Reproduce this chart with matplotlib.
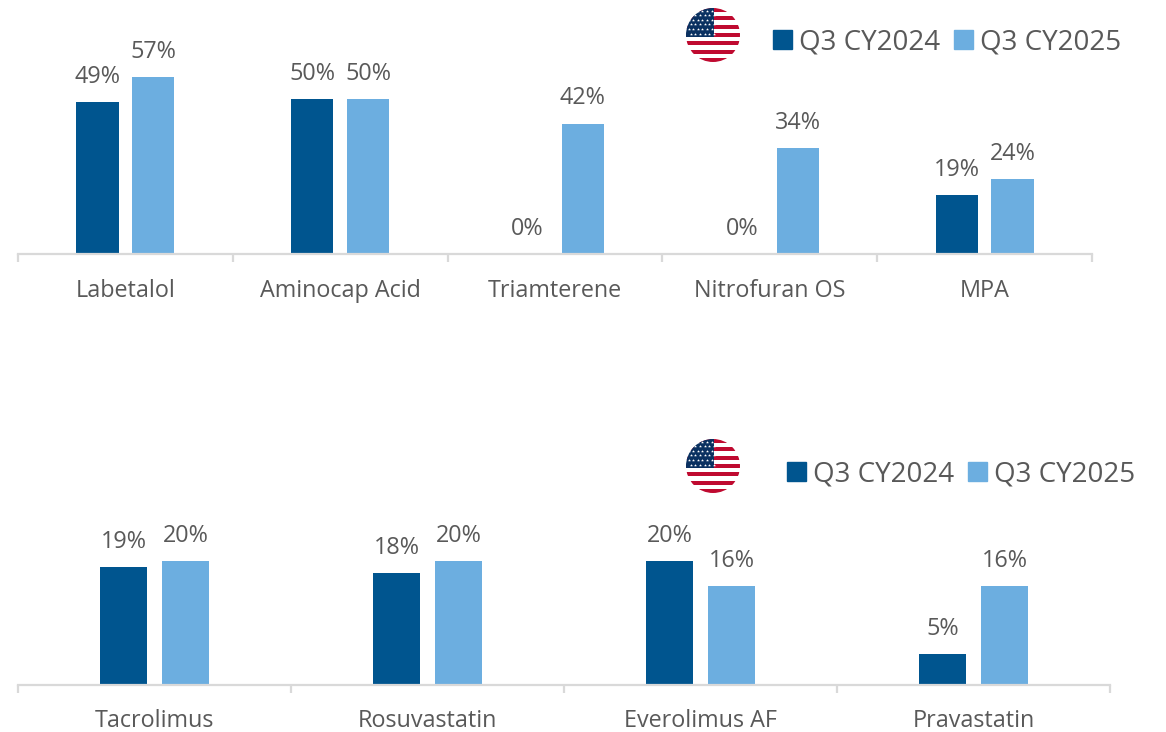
#!/usr/bin/env python

import numpy as np
import matplotlib.pyplot as plt
from matplotlib.patches import Circle, Patch, Rectangle

plt.rcParams['font.family'] = ['Open Sans', 'DejaVu Sans']

W, H = 1166, 732
DARK = "#00558f"
LIGHT = "#6caee0"
GREY = "#595959"
LINE = "#d9d9d9"

series_names = ["Q3 CY2024", "Q3 CY2025"]

top_drugs = ["Labetalol", "Aminocap Acid", "Triamterene", "Nitrofuran OS", "MPA"]
top_2024 = [49, 50, 0, 0, 19]
top_2025 = [57, 50, 42, 34, 24]

bottom_drugs = ["Tacrolimus", "Rosuvastatin", "Everolimus AF", "Pravastatin"]
bottom_2024 = [19, 18, 20, 5]
bottom_2025 = [20, 20, 16, 16]


def px_axes(fig, left, top, right, bottom):
    """ axes placed with pixel coordinates, y measured from the top """
    return fig.add_axes([left / W, 1 - bottom / H, (right - left) / W, (bottom - top) / H])


def bar_panel(ax, drugs, vals_a, vals_b, offset, width, ymax, label_pad):
    """ two bars per drug, boundary ticks and percentage labels """
    x = np.arange(len(drugs))
    bars_a = ax.bar(x - offset, vals_a, width, color=DARK)
    bars_b = ax.bar(x + offset, vals_b, width, color=LIGHT)
    for bars in (bars_a, bars_b):
        ax.bar_label(bars, fmt="%d%%", padding=9.5, fontsize=16.8, color=GREY)

    ax.set_xlim(-0.5, len(drugs) - 0.5)
    ax.set_ylim(0, ymax)
    ax.set_yticks([])
    ax.set_xticks(np.arange(len(drugs) + 1) - 0.5)
    ax.set_xticklabels([])
    ax.set_xticks(x, minor=True)
    ax.set_xticklabels(drugs, minor=True, fontsize=16.8, color=GREY)
    ax.tick_params(axis="x", which="major", length=6, width=1.6, color=LINE)
    ax.tick_params(axis="x", which="minor", length=0, pad=label_pad)
    for side in ("top", "left", "right"):
        ax.spines[side].set_visible(False)
    ax.spines["bottom"].set_color(LINE)
    ax.spines["bottom"].set_linewidth(1.6)
    ax.patch.set_alpha(0)


def draw_flag(fig, cx, cy, r):
    """ round US flag badge """
    ax = px_axes(fig, cx - r, cy - r, cx + r, cy + r)
    ax.set_xlim(0, 1)
    ax.set_ylim(0, 1)
    ax.axis("off")
    clip = Circle((0.5, 0.5), 0.5, transform=ax.transData)
    stripe = 1 / 13
    for i in range(13):
        color = "#bf0a30" if i % 2 == 0 else "white"
        patch = Rectangle((0, 1 - (i + 1) * stripe), 1, stripe, color=color, lw=0)
        ax.add_patch(patch)
        patch.set_clip_path(clip)
    canton = Rectangle((0, 1 - 7 * stripe), 0.52, 7 * stripe, color="#0a3161", lw=0)
    ax.add_patch(canton)
    canton.set_clip_path(clip)
    for row in range(6):
        cols = np.arange(0.05 + 0.04 * (row % 2), 0.52, 0.085)
        stars = ax.scatter(cols, np.full(len(cols), 0.95 - row * 0.085), s=5, marker="*",
                           color="white", linewidths=0, zorder=3)
        stars.set_clip_path(clip)


def add_legend(fig, left, centre_y):
    """ legend with square swatches, anchored in pixels """
    handles = [Patch(color=DARK), Patch(color=LIGHT)]
    fig.legend(handles, series_names, loc="center left",
               bbox_to_anchor=(left / W, 1 - centre_y / H), ncols=2, frameon=False,
               fontsize=20, labelcolor=GREY, handlelength=0.68, handleheight=0.68,
               handletextpad=0.24, columnspacing=0.53, borderpad=0, borderaxespad=0)


def main():
    """ main body """
    fig = plt.figure(figsize=(W / 100, H / 100), dpi=100, facecolor="white")

    ax_top = px_axes(fig, 18, 40, 1092, 254)
    bar_panel(ax_top, top_drugs, top_2024, top_2025, 0.13, 0.196, 214 / 3.105, 18)

    ax_bottom = px_axes(fig, 18, 500, 1110, 685)
    bar_panel(ax_bottom, bottom_drugs, bottom_2024, bottom_2025, 0.1136, 0.172, 185 / 6.2, 17)

    draw_flag(fig, 713, 35, 27)
    draw_flag(fig, 713, 466, 27)
    add_legend(fig, 773, 42)
    add_legend(fig, 787, 474)

    fig.savefig("out.png", dpi=100)


if __name__ == "__main__":
    main()
